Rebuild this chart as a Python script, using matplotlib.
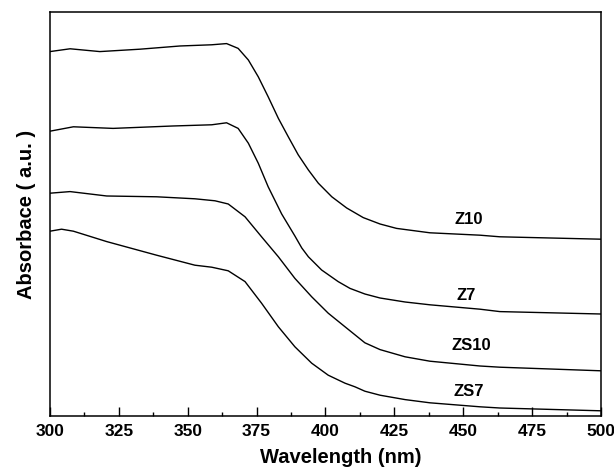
import matplotlib
matplotlib.use("Agg")
import matplotlib.pyplot as plt
from matplotlib.ticker import MultipleLocator

FONT = "Liberation Sans"

# spectra (wavelength in nm, absorbance a.u.)
z10_wl = [300, 307.3, 318.1, 332.7, 347.2, 358.7, 364.1, 368.3, 372,
          375.6, 379.2, 382.9, 386.5, 390.1, 393.8, 397.4, 402.3, 407.7,
          413.7, 419.8, 425.8, 437.9, 456.1, 463.3, 500]
z10_abs = [0.911, 0.918, 0.911, 0.917, 0.925, 0.928, 0.931, 0.919, 0.890,
           0.848, 0.798, 0.744, 0.698, 0.653, 0.615, 0.582, 0.548, 0.520,
           0.496, 0.480, 0.469, 0.458, 0.452, 0.448, 0.442]

z7_wl = [300, 308.5, 322.9, 344.6, 358.7, 364.1, 368.3, 372, 375.6, 379.2,
         384.1, 388.9, 391.4, 393.8, 398.6, 404.6, 408.9, 414.3, 419.8,
         428.9, 437.9, 456.1, 463.3, 500]
z7_abs = [0.712, 0.723, 0.719, 0.725, 0.728, 0.733, 0.719, 0.682, 0.632,
          0.573, 0.505, 0.450, 0.420, 0.398, 0.365, 0.336, 0.319, 0.305,
          0.295, 0.285, 0.278, 0.267, 0.261, 0.255]

zs10_wl = [300, 307.3, 320.6, 338.7, 352.6, 359.9, 364.7, 370.8, 376.8,
           382.9, 388.9, 395, 401, 407.1, 410.7, 414.3, 419.8, 428.9, 437.9,
           456.1, 463.3, 500]
zs10_abs = [0.557, 0.561, 0.550, 0.548, 0.543, 0.538, 0.530, 0.498, 0.448,
            0.398, 0.344, 0.298, 0.257, 0.223, 0.203, 0.183, 0.166, 0.148,
            0.137, 0.125, 0.122, 0.113]

zs7_wl = [300, 304.2, 308.5, 320.6, 338.7, 352.6, 358.7, 364.7, 370.8,
          376.8, 382.9, 388.9, 395, 401, 407.1, 410.7, 414.3, 419.8, 428.9,
          437.9, 456.1, 463.3, 500]
zs7_abs = [0.462, 0.467, 0.462, 0.436, 0.402, 0.377, 0.372, 0.363, 0.336,
           0.282, 0.223, 0.173, 0.132, 0.102, 0.082, 0.073, 0.062, 0.052,
           0.041, 0.033, 0.023, 0.020, 0.013]

names_lbl = ["Z10", "Z7", "ZS10", "ZS7"]
lbl_x = [452, 451, 453, 452]
lbl_y = [0.492, 0.302, 0.177, 0.061]

fig = plt.figure(figsize=(6.14, 4.68), dpi=100)
ax = fig.add_axes([0.0814, 0.1111, 0.8974, 0.8633])

for wl, ab in [(z10_wl, z10_abs), (z7_wl, z7_abs),
               (zs10_wl, zs10_abs), (zs7_wl, zs7_abs)]:
    ax.plot(wl, ab, color="black", lw=1.0)

for name, x, y in zip(names_lbl, lbl_x, lbl_y):
    ax.text(x, y, name, ha="center", va="center", fontsize=12,
            fontweight="bold", family=FONT)

ax.set_xlim(300, 500)
ax.set_ylim(0, 1.01)
ax.xaxis.set_major_locator(MultipleLocator(25))
ax.xaxis.set_minor_locator(MultipleLocator(12.5))
ax.tick_params(axis="x", which="major", direction="in", length=6.5,
               width=1, pad=6)
ax.tick_params(axis="x", which="minor", direction="in", length=3, width=1)
ax.set_yticks([])
for lab in ax.get_xticklabels():
    lab.set_fontfamily(FONT)
    lab.set_fontweight("bold")
    lab.set_fontsize(12.5)
for sp in ax.spines.values():
    sp.set_linewidth(1.1)

ax.set_xlabel("Wavelength (nm)", family=FONT, fontweight="bold",
              fontsize=14.5)
ax.xaxis.set_label_coords(0.528, -0.102)
ax.xaxis.label.set_va("center")
ax.set_ylabel("Absorbace ( a.u. )", family=FONT, fontweight="bold",
              fontsize=14.5, labelpad=10)

fig.savefig("out.png", dpi=100)
